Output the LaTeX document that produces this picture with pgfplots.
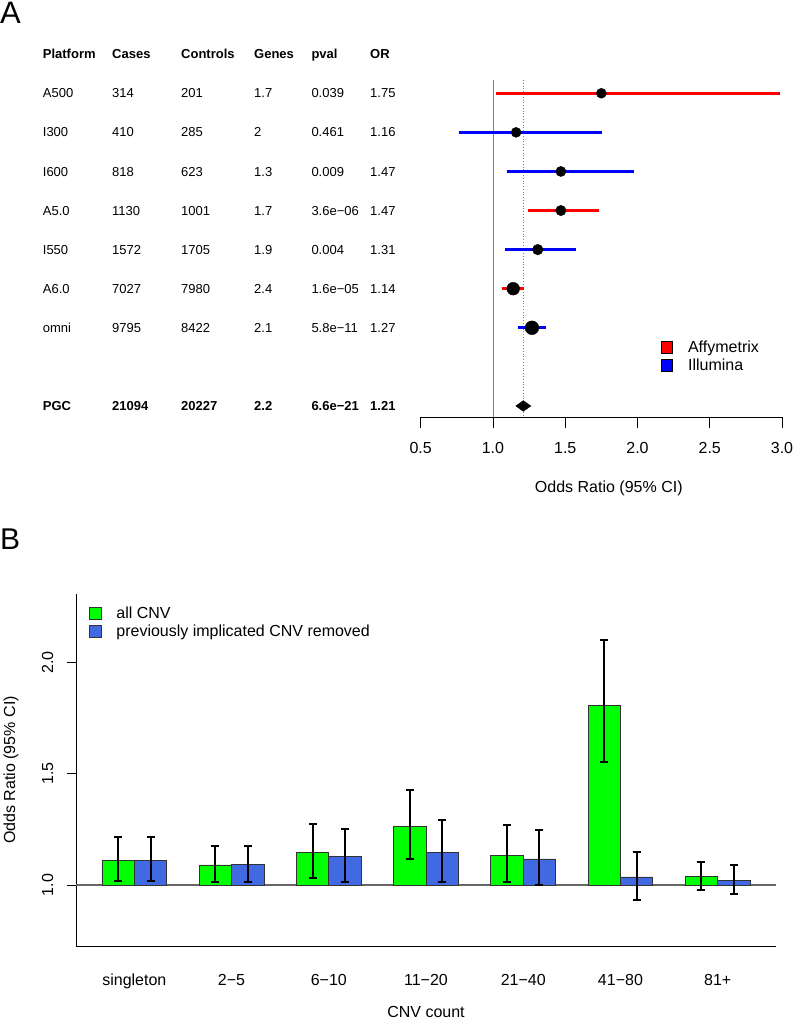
\documentclass[border=0pt]{standalone}
\usepackage{fontspec}
\setmainfont{Liberation Sans}
\usepackage{pgfplots}
\usepackage{pgfplotstable}
\pgfplotsset{compat=1.18}

\definecolor{rgreen}{RGB}{0,255,0}
\definecolor{rroyal}{RGB}{65,105,225}
\definecolor{rred}{RGB}{255,0,0}
\definecolor{rblue}{RGB}{0,0,255}

% Panel B data: x position, odds ratio, lower CI, upper CI
\pgfplotstableread{
x    v     lo    hi
1.5  1.112 1.018 1.217
4.5  1.090 1.012 1.174
7.5  1.147 1.033 1.273
10.5 1.262 1.118 1.425
13.5 1.133 1.015 1.268
16.5 1.806 1.553 2.100
19.5 1.040 0.978 1.103
}\greendata
\pgfplotstableread{
x    v     lo    hi
2.5  1.110 1.018 1.217
5.5  1.092 1.012 1.175
8.5  1.127 1.012 1.253
11.5 1.145 1.012 1.293
14.5 1.117 1.000 1.247
17.5 1.036 0.933 1.147
20.5 1.022 0.960 1.090
}\bluedata

\newcommand{\fs}[1]{\fontsize{#1bp}{#1bp}\selectfont}
\newcommand{\trow}[7]{%
  \node[anchor=base west,inner sep=0pt] at (42.7,#1) {#2};
  \node[anchor=base west,inner sep=0pt] at (112,#1) {#3};
  \node[anchor=base west,inner sep=0pt] at (181,#1) {#4};
  \node[anchor=base west,inner sep=0pt] at (254,#1) {#5};
  \node[anchor=base west,inner sep=0pt] at (311.3,#1) {#6};
  \node[anchor=base west,inner sep=0pt] at (370,#1) {#7};}

\begin{document}
\begin{tikzpicture}[x=1bp,y=1bp]
\useasboundingbox (0,0) rectangle (793,1020);

\node[anchor=base west,inner sep=0pt,font=\fs{31}] at (0,996.7) {A};
\node[anchor=base west,inner sep=0pt,font=\fs{30}] at (0,470.7) {B};

% ---------- table of panel A ----------
\begin{scope}[font=\fs{13}]
\trow{961.1}{\textbf{Platform}}{\textbf{Cases}}{\textbf{Controls}}{\textbf{Genes}}{\textbf{pval}}{\textbf{OR}}
\trow{922.05}{A500}{314}{201}{1.7}{0.039}{1.75}
\trow{883.0}{I300}{410}{285}{2}{0.461}{1.16}
\trow{843.95}{I600}{818}{623}{1.3}{0.009}{1.47}
\trow{804.9}{A5.0}{1130}{1001}{1.7}{3.6e−06}{1.47}
\trow{765.85}{I550}{1572}{1705}{1.9}{0.004}{1.31}
\trow{726.8}{A6.0}{7027}{7980}{2.4}{1.6e−05}{1.14}
\trow{687.75}{omni}{9795}{8422}{2.1}{5.8e−11}{1.27}
\trow{609.65}{\textbf{PGC}}{\textbf{21094}}{\textbf{20227}}{\textbf{2.2}}{\textbf{6.6e−21}}{\textbf{1.21}}
\end{scope}

% ---------- panel A forest plot ----------
\begin{axis}[
  at={(420.7bp,602.7bp)}, anchor=south west, scale only axis,
  width=361.3bp, height=337.3bp,
  xmin=0.5, xmax=3, ymin=-9.29, ymax=-0.66,
  axis x line*=bottom, axis y line=none,
  xtick={0.5,1,1.5,2,2.5,3},
  xticklabel style={/pgf/number format/fixed,/pgf/number format/fixed zerofill,/pgf/number format/precision=1, yshift=-10.5bp},
  /pgf/number format/assume math mode=true,
  tick align=outside, major tick length=10.7bp,
  tick style={black, line width=0.8bp},
  axis line style={black, line width=0.8bp},
  tick label style={font=\fs{16}},
  xlabel={Odds Ratio (95\% CI)},
  xlabel style={at={(axis description cs:0.5206,-0.2227)}, anchor=base, font=\fs{16}},
  clip=false,
  legend image code/.code={\draw[#1] (0bp,-5.75bp) rectangle (11.5bp,5.75bp);},
  legend style={at={(0.665,0.2265)}, anchor=north west, draw=none, fill=none,
    inner sep=0pt, outer sep=0pt, row sep=5bp, column sep=15bp, font=\fs{16},
    nodes={inner sep=0pt}},
  legend cell align=left,
]
\addlegendimage{fill=rred, draw=black, line width=0.6bp}
\addlegendentry{Affymetrix}
\addlegendimage{fill=rblue, draw=black, line width=0.6bp}
\addlegendentry{Illumina}

\addplot[gray, line width=0.8bp, forget plot] coordinates {(1,-0.66) (1,-9.29)};
\addplot[gray, dotted, line width=0.8bp, forget plot] coordinates {(1.21,-0.66) (1.21,-9.29)};

% confidence intervals
\addplot[rred, line width=3.2bp, forget plot] coordinates {(1.021,-1) (2.985,-1)};
\addplot[rblue, line width=3.2bp, forget plot] coordinates {(0.767,-2) (1.756,-2)};
\addplot[rblue, line width=3.2bp, forget plot] coordinates {(1.095,-3) (1.975,-3)};
\addplot[rred, line width=3.2bp, forget plot] coordinates {(1.240,-4) (1.733,-4)};
\addplot[rblue, line width=3.2bp, forget plot] coordinates {(1.085,-5) (1.574,-5)};
\addplot[rred, line width=3.2bp, forget plot] coordinates {(1.064,-6) (1.214,-6)};
\addplot[rblue, line width=3.2bp, forget plot] coordinates {(1.171,-7) (1.367,-7)};

% odds ratios
\addplot[only marks, mark=*, mark size=5bp, black, forget plot] coordinates {(1.75,-1)};
\addplot[only marks, mark=*, mark size=5bp, black, forget plot] coordinates {(1.16,-2)};
\addplot[only marks, mark=*, mark size=5.1bp, black, forget plot] coordinates {(1.47,-3)};
\addplot[only marks, mark=*, mark size=5.2bp, black, forget plot] coordinates {(1.47,-4)};
\addplot[only marks, mark=*, mark size=5.3bp, black, forget plot] coordinates {(1.31,-5)};
\addplot[only marks, mark=*, mark size=6.4bp, black, forget plot] coordinates {(1.14,-6)};
\addplot[only marks, mark=*, mark size=6.9bp, black, forget plot] coordinates {(1.27,-7)};

% pooled estimate diamond
\addplot[fill=black, draw=black, forget plot] coordinates {(1.158,-9) (1.21,-8.863) (1.262,-9) (1.21,-9.137)} -- cycle;
\end{axis}

% ---------- panel B bar chart ----------
\begin{axis}[
  at={(76bp,74bp)}, anchor=south west, scale only axis,
  width=700bp, height=352bp,
  xmin=0.2, xmax=21.8, ymin=-0.274, ymax=1.307,
  y filter/.expression={y-1},
  axis x line*=bottom, axis y line*=left,
  xtick={2,5,8,11,14,17,20},
  xticklabels={singleton,2−5,6−10,11−20,21−40,41−80,81+},
  x tick style={draw=none},
  ytick={0,0.5,1}, yticklabels={1.0,1.5,2.0},
  yticklabel style={xshift=-10bp, rotate=90, anchor=south},
  xticklabel style={anchor=base, yshift=-30bp},
  /pgf/number format/assume math mode=true,
  tick align=outside, major tick length=9.3bp,
  tick style={black, line width=0.8bp},
  axis line style={black, line width=0.8bp},
  tick label style={font=\fs{16}},
  xlabel={CNV count},
  xlabel style={at={(axis description cs:0.5,-0.2037)}, anchor=base, font=\fs{16}},
  ylabel={Odds Ratio (95\% CI)},
  ylabel style={at={(axis description cs:-0.0871,0.5)}, anchor=base, font=\fs{16}},
  clip=false,
  legend image code/.code={\draw[#1] (0bp,-5.75bp) rectangle (11.5bp,5.75bp);},
  legend style={at={(0.019,0.9634)}, anchor=north west, draw=none, fill=none,
    inner sep=0pt, outer sep=0pt, row sep=5bp, column sep=15bp, font=\fs{16},
    nodes={inner sep=0pt}},
  legend cell align=left,
]
\addlegendimage{fill=rgreen, draw=black!80, line width=0.6bp}
\addlegendentry{all CNV}
\addlegendimage{fill=rroyal, draw=black!80, line width=0.6bp}
\addlegendentry{previously implicated CNV removed}

\addplot[black!60, line width=1.2bp, forget plot] coordinates {(0.2,1) (21.8,1)};

\addplot[ybar, bar width=1, bar shift=0pt, fill=rgreen, draw=black!80, line width=0.8bp, forget plot,
  error bars/.cd, y dir=both, y explicit,
  error bar style={black, line width=2bp},
  error mark options={black, line width=2bp, mark size=4bp, rotate=90}]
  table[x=x, y=v, y error plus expr=\thisrow{hi}-\thisrow{v}, y error minus expr=\thisrow{v}-\thisrow{lo}] {\greendata};
\addplot[ybar, bar width=1, bar shift=0pt, fill=rroyal, draw=black!80, line width=0.8bp, forget plot,
  error bars/.cd, y dir=both, y explicit,
  error bar style={black, line width=2bp},
  error mark options={black, line width=2bp, mark size=4bp, rotate=90}]
  table[x=x, y=v, y error plus expr=\thisrow{hi}-\thisrow{v}, y error minus expr=\thisrow{v}-\thisrow{lo}] {\bluedata};
\end{axis}
\end{tikzpicture}
\end{document}
